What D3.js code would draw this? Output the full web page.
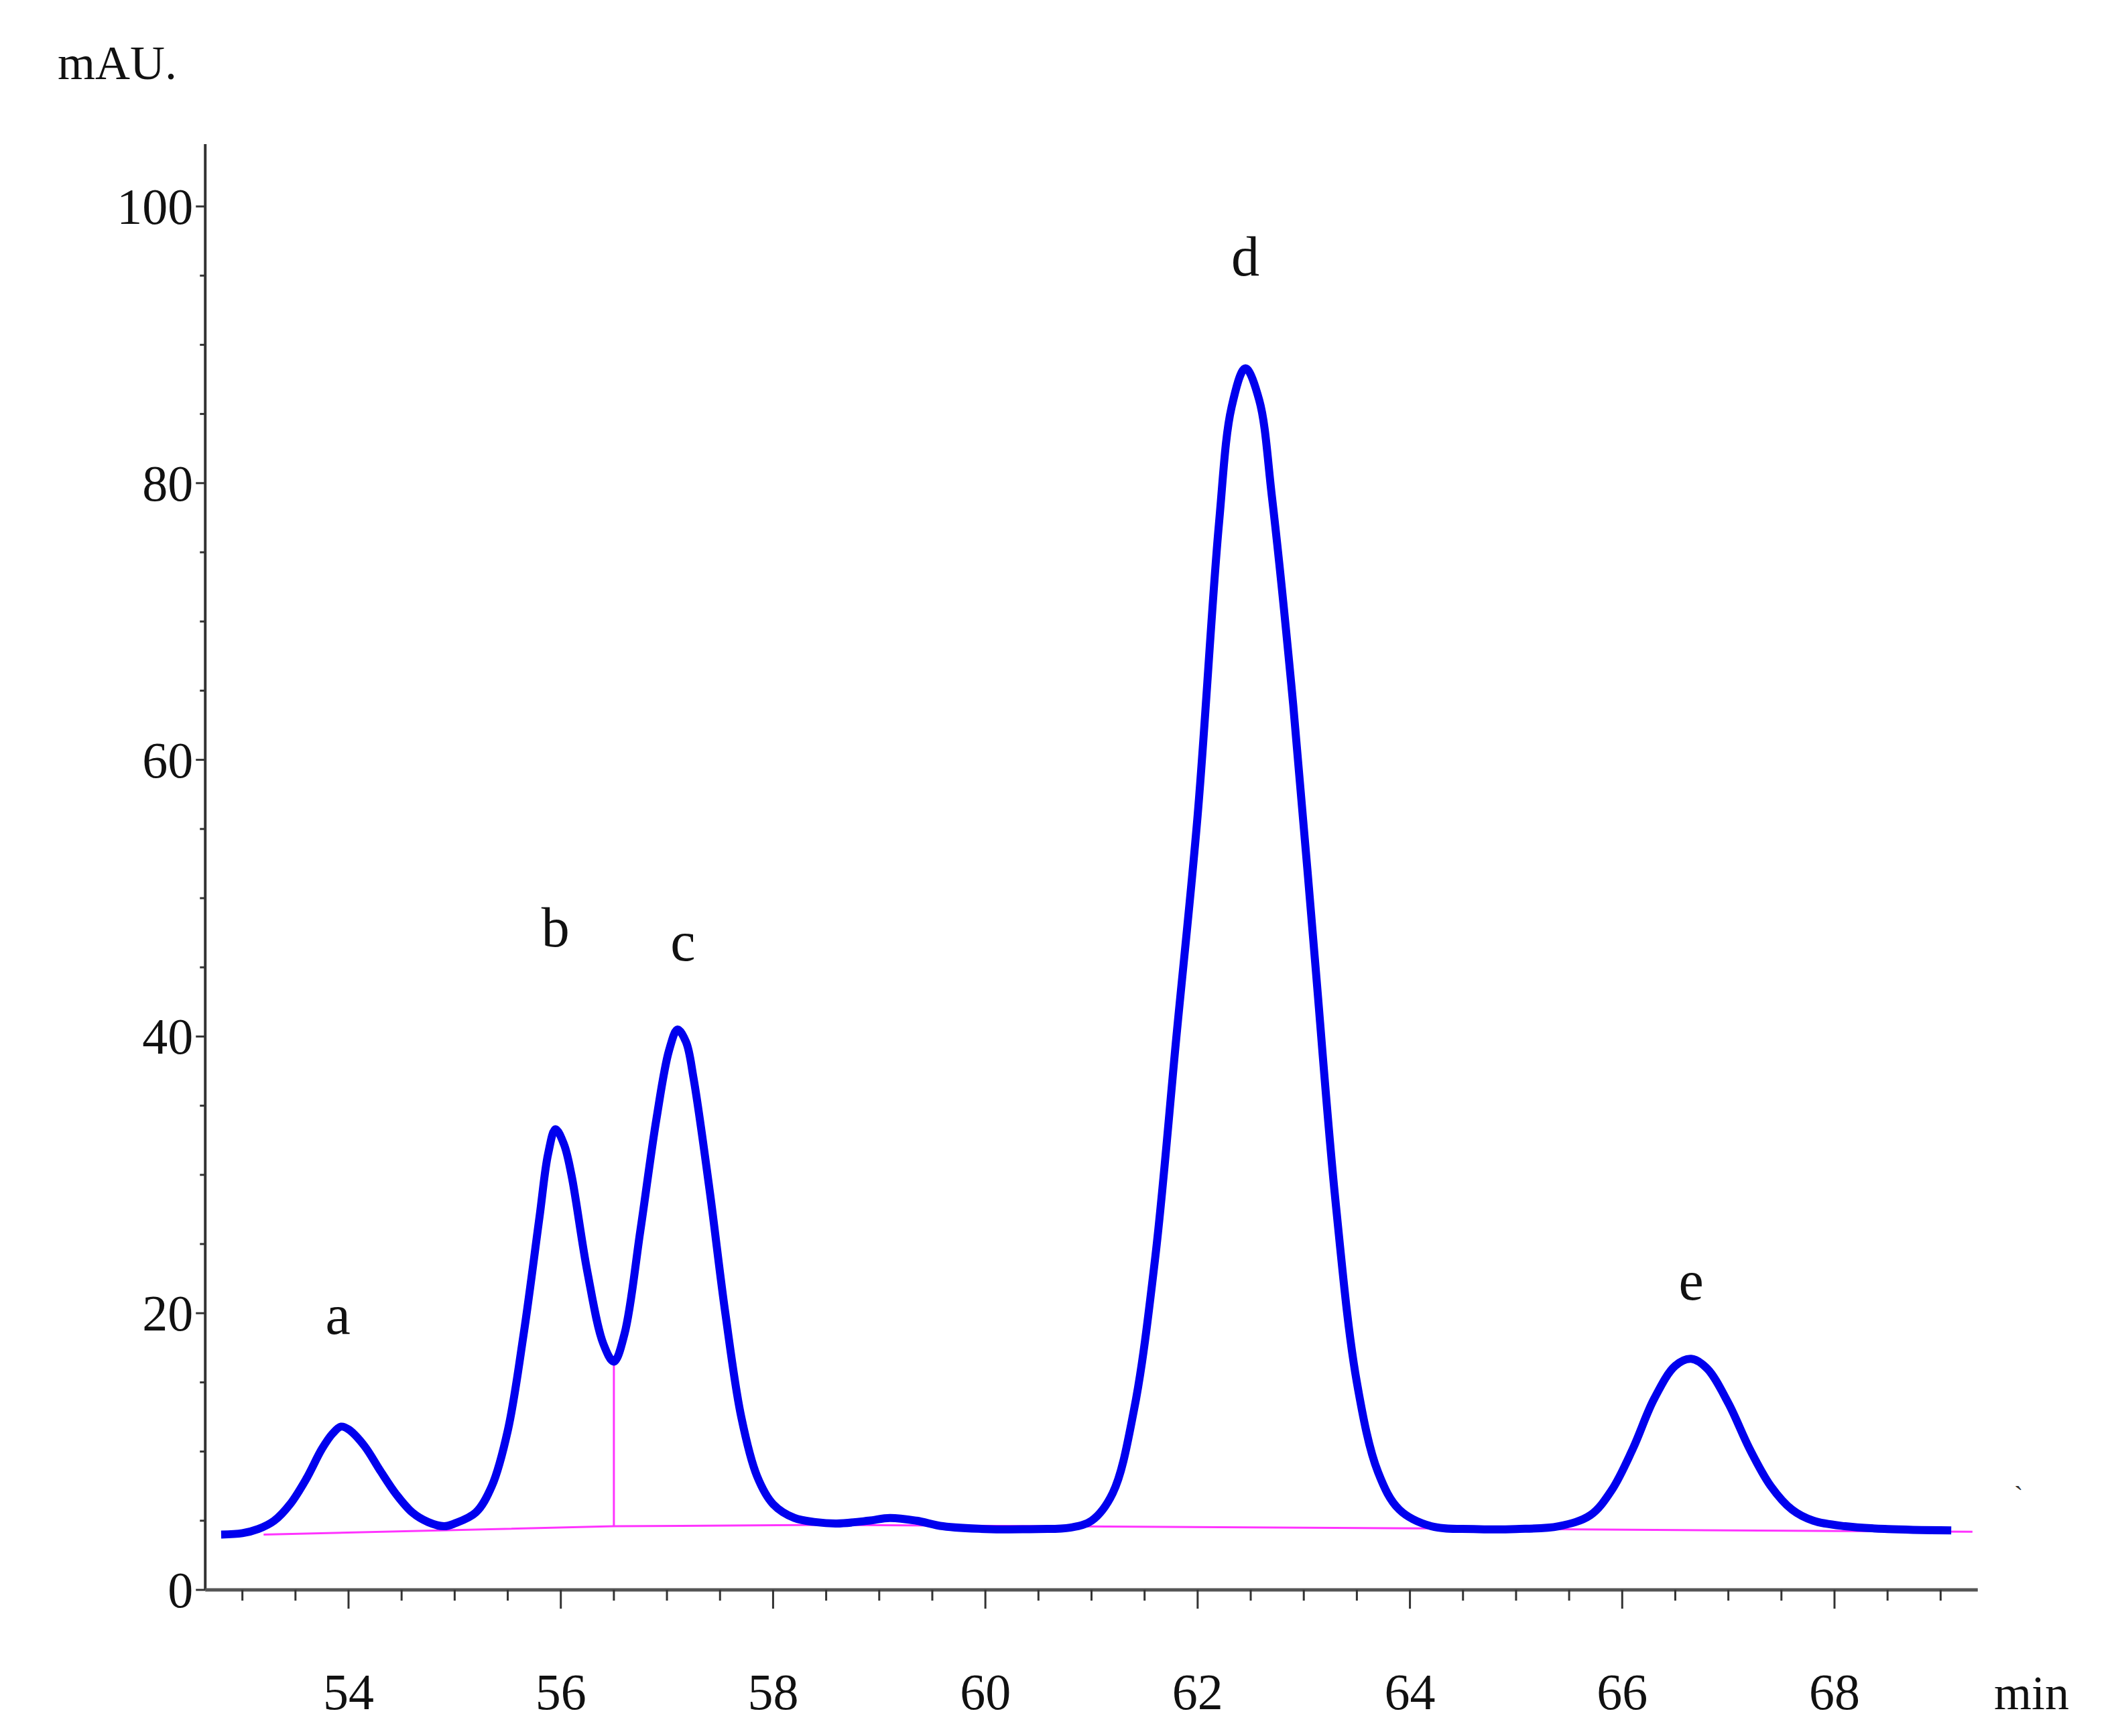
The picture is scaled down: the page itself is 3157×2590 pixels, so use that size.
<!DOCTYPE html>
<html><head><meta charset="utf-8">
<script src="https://cdn.jsdelivr.net/npm/d3@7"></script>
<style>body{margin:0;background:#fff}</style></head>
<body><svg id="c" width="3157" height="2590"></svg>
<script>
const timeMin = [52.8,53.0,53.15,53.3,53.45,53.6,53.75,53.85,53.93,54.0,54.15,54.3,54.45,54.6,54.75,54.9,55.0,55.2,55.35,55.5,55.65,55.8,55.88,55.95,56.03,56.1,56.25,56.4,56.5,56.6,56.75,56.9,57.02,57.1,57.18,57.25,57.4,57.55,57.7,57.85,58.0,58.2,58.4,58.6,58.9,59.1,59.35,59.6,60.0,60.5,60.8,61.0,61.2,61.4,61.6,61.8,62.0,62.2,62.32,62.45,62.58,62.7,62.9,63.1,63.3,63.5,63.7,63.9,64.2,64.6,65.0,65.4,65.7,65.9,66.1,66.3,66.5,66.65,66.8,67.0,67.2,67.4,67.6,67.8,68.1,68.5,69.1];
const signal = [4.0,4.1,4.4,5.0,6.2,8.0,10.2,11.3,11.8,11.6,10.4,8.6,6.9,5.6,4.9,4.6,4.8,5.6,7.5,11.5,18.5,27,31.5,33.3,32.2,30,23,17.8,16.5,18.5,26,34,39,40.5,39.6,37,29,20,12.5,8.2,6.2,5.2,4.9,4.8,5.0,5.2,5.0,4.6,4.4,4.4,4.5,5.0,7,13,24,40,56,77,85.5,88.3,86,79,64,46,28,15,8.5,5.8,4.6,4.4,4.4,4.6,5.4,7.2,10.2,13.8,16.2,16.7,16.0,13.5,10.2,7.5,5.8,5.0,4.6,4.4,4.3];
const baselineT = [53.2,56.5,58.5,69.3];
const baselineV = [4.0,4.6,4.7,4.2];
const dropT = 56.5, dropTop = 16.5, dropBase = 4.6;
const peakLabels = ["a","b","c","d","e"];
const peakT = [53.9,55.95,57.15,62.45,66.65];
const peakLabelV = [18.5,46.5,45.5,95,21];
const xTicks = [54,56,58,60,62,64,66,68];
const yTicks = [0,20,40,60,80,100];

const svg = d3.select("#c");
const x = d3.scaleLinear().domain([54,68]).range([520,2737]);
const y = d3.scaleLinear().domain([0,100]).range([2372,308]);
const font = "'Liberation Serif','DejaVu Serif',serif";
const ax = "#333";
const x0 = x(52.65), x1 = x(69.35), yTop = y(104.5);

svg.append("line").attr("x1",x0).attr("x2",x0).attr("y1",yTop).attr("y2",y(0)).attr("stroke",ax).attr("stroke-width",4);
svg.append("line").attr("x1",x0).attr("x2",x1).attr("y1",y(0)).attr("y2",y(0)).attr("stroke","#555").attr("stroke-width",5);
d3.range(0,105,5).forEach(v=>{
  const major = v%20===0;
  svg.append("line").attr("x1",x0-(major?14:8)).attr("x2",x0).attr("y1",y(v)).attr("y2",y(v)).attr("stroke",ax).attr("stroke-width",3);
});
yTicks.forEach(v=>svg.append("text").attr("x",x0-18).attr("y",y(v)+26).attr("text-anchor","end")
  .attr("font-family",font).attr("font-size",76).attr("fill","#111").text(v));
d3.range(53,69.5,0.5).forEach(t=>{
  const major = Math.abs(t%2)<1e-6;
  svg.append("line").attr("x1",x(t)).attr("x2",x(t)).attr("y1",y(0)).attr("y2",y(0)+(major?28:16)).attr("stroke",ax).attr("stroke-width",3);
});
xTicks.forEach(t=>svg.append("text").attr("x",x(t)).attr("y",2550).attr("text-anchor","middle")
  .attr("font-family",font).attr("font-size",76).attr("fill","#111").text(t));
svg.append("text").attr("x",2975).attr("y",2550).attr("font-family",font).attr("font-size",72).attr("fill","#111").text("min");
svg.append("text").attr("x",86).attr("y",118).attr("font-family",font).attr("font-size",72).attr("fill","#111").text("mAU.");

const bl = d3.line().x((d,i)=>x(baselineT[i])).y((d,i)=>y(baselineV[i]));
svg.append("path").attr("d",bl(baselineT)).attr("fill","none").attr("stroke","#ff33ff").attr("stroke-width",3);
svg.append("line").attr("x1",x(dropT)).attr("x2",x(dropT)).attr("y1",y(dropTop)).attr("y2",y(dropBase)).attr("stroke","#ff33ff").attr("stroke-width",3);

const ln = d3.line().curve(d3.curveCatmullRom.alpha(0.5)).x((d,i)=>x(timeMin[i])).y((d,i)=>y(signal[i]));
svg.append("path").attr("d",ln(timeMin)).attr("fill","none").attr("stroke","#0000ee").attr("stroke-width",12).attr("stroke-linejoin","round");

peakLabels.forEach((l,i)=>svg.append("text").attr("x",x(peakT[i])).attr("y",y(peakLabelV[i])).attr("text-anchor","middle")
  .attr("font-family",font).attr("font-size",84).attr("fill","#111").text(l));
svg.append("text").attr("x",3005).attr("y",2245).attr("font-family",font).attr("font-size",40).attr("fill","#333").text("ˋ");
</script></body></html>
